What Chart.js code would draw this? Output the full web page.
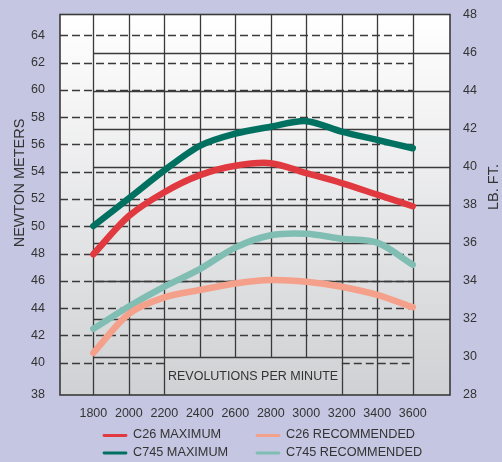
<!DOCTYPE html>
<html><head><meta charset="utf-8">
<script src="https://cdn.jsdelivr.net/npm/chart.js@4.4.1/dist/chart.umd.min.js"></script>
<style>html,body{margin:0;padding:0;background:#c5c7e2;}canvas{display:block}</style>
</head><body>
<canvas id="c" width="502" height="462"></canvas>
<script>
const rpm = [1800, 2000, 2200, 2400, 2600, 2800, 3000, 3200, 3400, 3600];
const c26Max = [47.95, 50.75, 52.5, 53.75, 54.44, 54.63, 53.9, 53.17, 52.32, 51.47];
const c26Rec = [40.72, 43.58, 44.79, 45.33, 45.81, 46.06, 45.94, 45.57, 44.97, 44.07];
const c745Max = [50.02, 52.05, 54.1, 55.9, 56.79, 57.3, 57.71, 56.94, 56.33, 55.72];
const c745Rec = [42.49, 44.12, 45.57, 46.86, 48.44, 49.34, 49.45, 49.09, 48.8, 47.18];
const seriesNames = ['C26 MAXIMUM', 'C26 RECOMMENDED', 'C745 MAXIMUM', 'C745 RECOMMENDED'];
const nmTicks = [38, 40, 42, 44, 46, 48, 50, 52, 54, 56, 58, 60, 62, 64];
const lbftTicks = [28, 30, 32, 34, 36, 38, 40, 42, 44, 46, 48];
const xTicks = rpm;

const FONT = '"Liberation Sans", Arial, sans-serif';
const TXT = '#333333';
const colors = ['#e03a40', '#f5a08a', '#007060', '#80bdb3'];

function line(ctx, x1, y1, x2, y2) { ctx.beginPath(); ctx.moveTo(x1, y1); ctx.lineTo(x2, y2); ctx.stroke(); }

const gridPlugin = {
  id: 'customGrid',
  beforeDraw(chart) {
    const { ctx, chartArea: a } = chart;
    ctx.save();
    ctx.fillStyle = '#c5c7e2';
    ctx.fillRect(0, 0, chart.width, chart.height);
    const g = ctx.createLinearGradient(0, a.top, 0, a.bottom);
    g.addColorStop(0, '#ffffff');
    g.addColorStop(1, '#d0d1d4');
    ctx.fillStyle = g;
    ctx.fillRect(a.left, a.top, a.right - a.left, a.bottom - a.top);
    ctx.restore();
  },
  beforeDatasetsDraw(chart) {
    const { ctx, chartArea: a, scales } = chart;
    const X = v => scales.x.getPixelForValue(v);
    const YL = v => scales.yL.getPixelForValue(v);
    const YR = v => scales.yR.getPixelForValue(v);
    ctx.save();
    ctx.strokeStyle = '#3a3a3a';
    ctx.lineWidth = 1.3;
    ctx.setLineDash([8, 4]);
    nmTicks.slice(1).forEach(v => {
      const y = Math.round(YL(v)) + 0.5;
      if (v === 40) {
        line(ctx, a.left, y, X(2200), y);
        line(ctx, X(3200), y, X(3600), y);
      } else {
        line(ctx, a.left, y, X(3600), y);
      }
    });
    ctx.setLineDash([]);
    lbftTicks.slice(1, -1).forEach(v => {
      const y = Math.round(YR(v)) + 0.5;
      if (v === 30) line(ctx, X(1800), y, X(3600), y);
      else line(ctx, X(1800), y, a.right, y);
    });
    xTicks.forEach(v => {
      const px = Math.round(X(v)) + 0.5;
      const yEnd = (v > 2200 && v < 3200) ? YR(30) : a.bottom;
      line(ctx, px, a.top, px, yEnd);
    });
    ctx.lineWidth = 1.6;
    ctx.strokeRect(a.left, a.top, a.right - a.left, a.bottom - a.top);
    ctx.fillStyle = TXT;
    ctx.font = '12.5px ' + FONT;
    ctx.textAlign = 'center';
    ctx.textBaseline = 'middle';
    ctx.fillText('REVOLUTIONS PER MINUTE', (X(2200) + X(3200)) / 2, (YR(30) + a.bottom) / 2 + 1);
    ctx.restore();
  },
  afterDraw(chart) {
    const { ctx } = chart;
    ctx.save();
    ctx.fillStyle = TXT;
    ctx.font = '14.5px ' + FONT;
    ctx.textAlign = 'center';
    ctx.textBaseline = 'middle';
    ctx.save(); ctx.translate(19.5, 183); ctx.rotate(-Math.PI / 2); ctx.fillText('NEWTON METERS', 0, 0); ctx.restore();
    ctx.save(); ctx.translate(493.5, 187); ctx.rotate(-Math.PI / 2); ctx.fillText('LB. FT.', 0, 0); ctx.restore();
    // legend
    ctx.font = '12.7px ' + FONT;
    ctx.textAlign = 'left';
    const colX = [103, 256];
    const rowY = [434.5, 452];
    chart.data.datasets.forEach((ds, i) => {
      const cx = colX[i % 2], ry = rowY[Math.floor(i / 2)];
      ctx.strokeStyle = ds.borderColor;
      ctx.lineWidth = 2.8;
      ctx.lineCap = 'round';
      line(ctx, cx + 1, ry + 1, cx + 23, ry + 1);
      ctx.fillStyle = TXT;
      ctx.fillText(ds.label, cx + 30, ry);
    });
    ctx.restore();
  }
};

const mk = (label, data, color) => ({
  label, data: rpm.map((r, i) => ({ x: r, y: data[i] })),
  borderColor: color, backgroundColor: color, borderWidth: 6.5,
  borderCapStyle: 'round', borderJoinStyle: 'round',
  pointRadius: 0, tension: 0.3, yAxisID: 'yL', fill: false
});

new Chart(document.getElementById('c'), {
  type: 'line',
  data: {
    datasets: [
      mk(seriesNames[0], c26Max, colors[0]),
      mk(seriesNames[1], c26Rec, colors[1]),
      mk(seriesNames[2], c745Max, colors[2]),
      mk(seriesNames[3], c745Rec, colors[3])
    ]
  },
  options: {
    responsive: false,
    animation: false,
    devicePixelRatio: 1,
    layout: { padding: { top: 12, left: 0, right: 0, bottom: 0 } },
    plugins: { legend: { display: false }, tooltip: { enabled: false } },
    scales: {
      x: {
        type: 'linear', min: 1612, max: 3810,
        grid: { display: false }, border: { display: false },
        afterBuildTicks: s => { s.ticks = xTicks.map(v => ({ value: v })); },
        afterFit: s => { s.height = 67; },
        ticks: { padding: 3, color: TXT, font: { size: 12.5, family: FONT }, callback: v => String(v), maxRotation: 0, autoSkip: false }
      },
      yL: {
        type: 'linear', position: 'left', min: 37.63, max: 65.53,
        grid: { display: false }, border: { display: false },
        afterBuildTicks: s => { s.ticks = nmTicks.map((v, i) => ({ value: i === 0 ? s.min : v })); },
        afterFit: s => { s.width = 60; },
        ticks: { padding: 7, color: TXT, font: { size: 12.5, family: FONT }, callback: (v, i) => String(nmTicks[i]), autoSkip: false }
      },
      yR: {
        type: 'linear', position: 'right', min: 28, max: 48,
        grid: { display: false }, border: { display: false },
        afterBuildTicks: s => { s.ticks = lbftTicks.map(v => ({ value: v })); },
        afterFit: s => { s.width = 52; },
        ticks: { padding: 5, color: TXT, font: { size: 12.5, family: FONT }, callback: v => String(v), autoSkip: false }
      }
    }
  },
  plugins: [gridPlugin]
});
</script>
</body></html>
